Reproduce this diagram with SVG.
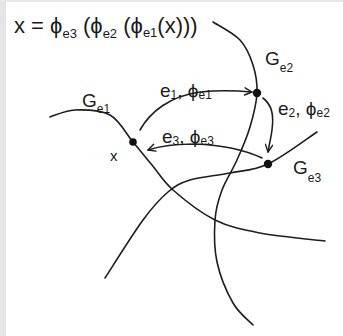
<svg xmlns="http://www.w3.org/2000/svg" width="343" height="336" viewBox="0 0 343 336">
<defs>
<style>
.curve{fill:none;stroke:#1e1e1e;stroke-width:1.6;stroke-linecap:round}
.conn{fill:none;stroke:#1e1e1e;stroke-width:1.6;stroke-linecap:round}
.dot{fill:#111}
text{font-family:"Liberation Sans","DejaVu Sans",sans-serif;fill:#1a1a1a}
.lbl{font-size:19px}
.sub{font-size:12px}
</style>
<marker id="ah" viewBox="0 0 10 10" refX="9" refY="5" markerWidth="9" markerHeight="9" markerUnits="userSpaceOnUse" orient="auto">
<path d="M1,1 L9,5 L1,9" fill="none" stroke="#1e1e1e" stroke-width="1.6" stroke-linecap="round" stroke-linejoin="round"/>
</marker>
</defs>
<rect width="343" height="336" fill="#ffffff"/>
<rect x="0" y="0" width="6" height="336" fill="#e4e4e4"/>
<rect x="0" y="0" width="343" height="2" fill="#e8e8e8"/>

<g id="formula">
<text x="14" y="33" font-size="22">x = ϕ<tspan font-size="13" dy="5">e3</tspan><tspan dy="-5"> (ϕ</tspan><tspan font-size="13" dy="5">e2</tspan><tspan dy="-5"> (ϕ</tspan><tspan font-size="13" dy="4">e1</tspan><tspan dy="-4">(x)))</tspan></text>
</g>

<g id="Ge1">
<path class="curve" d="M50,117 C54.2,115.8 65,110.3 75,110 C85,109.7 100.3,109.7 110,115 C119.7,120.3 126,133.7 133,142 C140,150.3 145.3,157 152,165 C158.7,173 162.5,180.8 173,190 C183.5,199.2 200.5,212.8 215,220 C229.5,227.2 241.7,229.5 260,233 C278.3,236.5 314.2,239.7 325,241"/>
<circle class="dot" cx="133" cy="142" r="3.8"/>
<text class="lbl" x="82" y="107">G<tspan class="sub" dy="6">e1</tspan></text>
<text x="110" y="161" font-size="15">x</text>
</g>

<g id="Ge2">
<path class="curve" d="M213,22 C217.5,25 233.3,32.8 240,40 C246.7,47.2 250.2,56.2 253,65 C255.8,73.8 257.5,82.7 257,93 C256.5,103.3 253.3,115.8 250,127 C246.7,138.2 241.7,149.5 237,160 C232.3,170.5 225.7,180 222,190 C218.3,200 215.8,208 215,220 C214.2,232 214,248.2 217,262 C220,275.8 227,292.5 233,303 C239,313.5 249.7,321.3 253,325"/>
<circle class="dot" cx="257" cy="93" r="4.2"/>
<text class="lbl" x="265" y="65">G<tspan class="sub" dy="7">e2</tspan></text>
</g>

<g id="Ge3">
<path class="curve" d="M317,132 C308.8,137.3 282.5,157.2 268,164 C253.5,170.8 243,170.3 230,173 C217,175.7 200.3,176.8 190,180 C179.7,183.2 175.8,185.3 168,192 C160.2,198.7 153.5,205.7 143,220 C132.5,234.3 111.3,268.3 105,278"/>
<circle class="dot" cx="268" cy="164" r="4.2"/>
<text class="lbl" x="293" y="174">G<tspan class="sub" dy="8">e3</tspan></text>
</g>

<g id="connectors">
<path class="conn" marker-end="url(#ah)" d="M140,130 C150,112 170,96 200,92 C220,90 240,91 252,92"/>
<path class="conn" marker-end="url(#ah)" d="M263,98 C272,105 274,115 272,130 C271,138 269,145 268,152"/>
<path class="conn" marker-end="url(#ah)" d="M262,158 C245,150 220,145 195,144 C175,144 160,146 148,150"/>
<text class="lbl" x="160" y="97">e<tspan class="sub" dy="2">1</tspan><tspan dy="-2">, ϕ</tspan><tspan class="sub" dy="2">e1</tspan></text>
<text class="lbl" x="278" y="115">e<tspan class="sub" dy="2">2</tspan><tspan dy="-2">, ϕ</tspan><tspan class="sub" dy="2">e2</tspan></text>
<text class="lbl" x="162" y="143">e<tspan class="sub" dy="2">3</tspan><tspan dy="-2">, ϕ</tspan><tspan class="sub" dy="2">e3</tspan></text>
</g>
</svg>
